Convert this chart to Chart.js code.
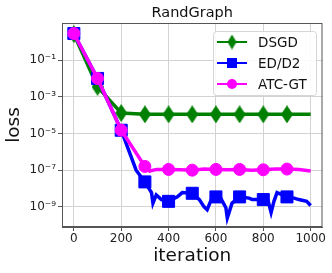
<!DOCTYPE html>
<html>
<head>
<meta charset="utf-8">
<script src="https://cdn.jsdelivr.net/npm/chart.js@4/dist/chart.umd.min.js"></script>
<style>
  html, body { margin: 0; padding: 0; background: #fff; }
  #wrap { width: 332px; height: 273px; }
</style>
</head>
<body>
<div id="wrap"><canvas id="lossChart" width="332" height="273"></canvas></div>
<script>
const seriesNames = ['DSGD', 'ED/D2', 'ATC-GT'];

const dsgdIter = [0, 100, 200, 300, 400, 500, 600, 700, 800, 900, 1000];
const dsgdLoss = [2.6, 3.5e-3, 1.3e-4, 1.1e-4, 1.1e-4, 1.1e-4, 1.1e-4, 1.1e-4, 1.1e-4, 1.1e-4, 1.1e-4];

const edIter = [0, 100, 200, 263, 300, 328, 334, 348, 370, 400, 437, 458, 500, 530, 550, 563, 585, 600, 620,
    642, 648, 668, 700, 740, 753, 800, 820, 833, 845, 858, 900, 930, 950, 983, 1000];
const edLoss = [2.8, 1.0e-2, 1.5e-5, 1e-7, 2.3e-8, 6e-9, 1.6e-9, 4.5e-9, 2.5e-9, 2e-9, 3.5e-9, 6e-9, 5.5e-9, 2.5e-9, 1e-9, 7e-10, 3.5e-9, 3.5e-9, 3e-9,
    9e-10, 2.5e-10, 1.6e-9, 3.5e-9, 3e-9, 2.5e-9, 2.5e-9, 2.2e-9, 5e-10, 2e-9, 6e-9, 3.5e-9, 3e-9, 2.5e-9, 2e-9, 1.2e-9];

const atcIter = [0, 100, 200, 300, 320, 350, 400, 450, 500, 550, 600, 650, 700, 750, 800, 850, 900, 950, 1000];
const atcLoss = [2.8, 1.0e-2, 1.5e-5, 1.6e-7, 9e-8, 1.1e-7, 1.1e-7, 1.05e-7, 1.0e-7, 1.15e-7, 1.1e-7, 1.05e-7, 1.1e-7, 1.0e-7, 1.05e-7, 1.15e-7, 1.15e-7, 1.1e-7, 9e-8];

const xTicks = [0, 200, 400, 600, 800, 1000];
const yTickExp = [-1, -3, -5, -7, -9];

const FONT = "'DejaVu Sans', sans-serif";
const supers = { '-': '\u207B', '0': '\u2070', '1': '\u00B9', '2': '\u00B2', '3': '\u00B3', '4': '\u2074',
    '5': '\u2075', '6': '\u2076', '7': '\u2077', '8': '\u2078', '9': '\u2079' };

function toPoints(xs, ys) {
    return xs.map((x, i) => ({ x: x, y: ys[i] }));
}

// thin diamond like matplotlib 'd'
function makeDiamond(color, w, h) {
    const c = document.createElement('canvas');
    c.width = w; c.height = h;
    const g = c.getContext('2d');
    g.fillStyle = color;
    g.beginPath();
    g.moveTo(w / 2, 0); g.lineTo(w, h / 2); g.lineTo(w / 2, h); g.lineTo(0, h / 2);
    g.closePath();
    g.fill();
    return c;
}
const diamond = makeDiamond('#008000', 12, 18);
const smallDiamond = makeDiamond('#008000', 9, 15);

function markerRadius(r) {
    return ctx => {
        const x = ctx.raw && ctx.raw.x;
        return (x % 100 === 0 && x <= 900) ? r : 0;
    };
}

const colors = ['#008000', '#0000ff', '#ff00ff'];

const framePlugin = {
    id: 'frame',
    afterDatasetsDraw(chart) {
        const c = chart.ctx, a = chart.chartArea;
        c.save();
        // title
        c.fillStyle = '#111';
        c.font = '14.5px ' + FONT;
        c.textAlign = 'center';
        c.textBaseline = 'middle';
        c.fillText('RandGraph', (a.left + a.right) / 2, 13);
        // frame
        c.strokeStyle = '#555';
        c.lineWidth = 1;
        c.strokeRect(a.left + 0.5, a.top + 0.5, a.right - a.left - 1, a.bottom - a.top - 1);
        // legend
        const bx = 213, by = 31, bw = 103, bh = 64;
        c.fillStyle = 'rgba(255,255,255,0.85)';
        c.strokeStyle = '#d6d6d6';
        c.beginPath();
        c.roundRect(bx + 0.5, by + 0.5, bw, bh, 3);
        c.fill();
        c.stroke();
        c.font = '13.5px ' + FONT;
        c.textAlign = 'left';
        for (let i = 0; i < seriesNames.length; i++) {
            const y = 42 + i * 21;
            c.strokeStyle = colors[i];
            c.lineWidth = 2;
            c.beginPath();
            c.moveTo(217, y); c.lineTo(247, y);
            c.stroke();
            c.fillStyle = colors[i];
            if (i === 0) {
                c.drawImage(smallDiamond, 232 - 4.5, y - 7.5);
            } else if (i === 1) {
                c.fillRect(232 - 5, y - 5, 10, 10);
            } else {
                c.beginPath();
                c.arc(232, y, 5, 0, Math.PI * 2);
                c.fill();
            }
            c.fillStyle = '#111';
            c.fillText(seriesNames[i], 258, y + 1);
        }
        c.restore();
    }
};

new Chart(document.getElementById('lossChart'), {
    type: 'line',
    data: {
        datasets: [
            {
                label: seriesNames[0],
                data: toPoints(dsgdIter, dsgdLoss),
                borderColor: colors[0],
                backgroundColor: colors[0],
                borderWidth: 3.5,
                pointStyle: diamond,
                pointRadius: markerRadius(6),
                order: 3
            },
            {
                label: seriesNames[1],
                data: toPoints(edIter, edLoss),
                borderColor: colors[1],
                backgroundColor: colors[1],
                borderWidth: 3.5,
                pointStyle: 'rect',
                pointRadius: markerRadius(8.5),
                pointBorderWidth: 1,
                order: 2
            },
            {
                label: seriesNames[2],
                data: toPoints(atcIter, atcLoss),
                borderColor: colors[2],
                backgroundColor: colors[2],
                borderWidth: 3.5,
                pointStyle: 'circle',
                pointRadius: markerRadius(6),
                pointBorderWidth: 1,
                order: 1
            }
        ]
    },
    options: {
        responsive: false,
        animation: false,
        events: [],
        layout: { padding: { top: 23, right: 9, left: 0, bottom: 0 } },
        elements: { line: { tension: 0 } },
        plugins: {
            legend: { display: false },
            title: { display: false },
            tooltip: { enabled: false }
        },
        scales: {
            x: {
                type: 'linear',
                min: -50,
                max: 1050,
                afterBuildTicks: s => { s.ticks = xTicks.map(v => ({ value: v })); },
                afterFit: s => { s.height = 46; },
                grid: { color: '#d3d3d3', tickLength: 4, tickColor: '#555' },
                border: { color: '#555' },
                ticks: { color: '#222', font: { family: FONT, size: 12 }, padding: 1, maxRotation: 0, callback: v => String(v) },
                title: { display: true, text: 'iteration', color: '#111', font: { family: FONT, size: 18.5 }, padding: { top: 0, bottom: 6 } }
            },
            y: {
                type: 'logarithmic',
                min: 8e-11,
                max: 10.5,
                afterBuildTicks: s => { s.ticks = yTickExp.map(e => ({ value: Math.pow(10, e) })); },
                afterFit: s => { s.width = 62; },
                grid: { color: '#d3d3d3', tickLength: 4, tickColor: '#555' },
                border: { color: '#555' },
                ticks: {
                    color: '#222',
                    font: { family: FONT, size: 12 },
                    padding: 2,
                    callback: v => '10' + String(Math.round(Math.log10(v))).split('').map(ch => supers[ch]).join('')
                },
                title: { display: true, text: 'loss', color: '#111', font: { family: FONT, size: 18.5 }, padding: { top: 3, bottom: 0 } }
            }
        }
    },
    plugins: [framePlugin]
});
</script>
</body>
</html>
